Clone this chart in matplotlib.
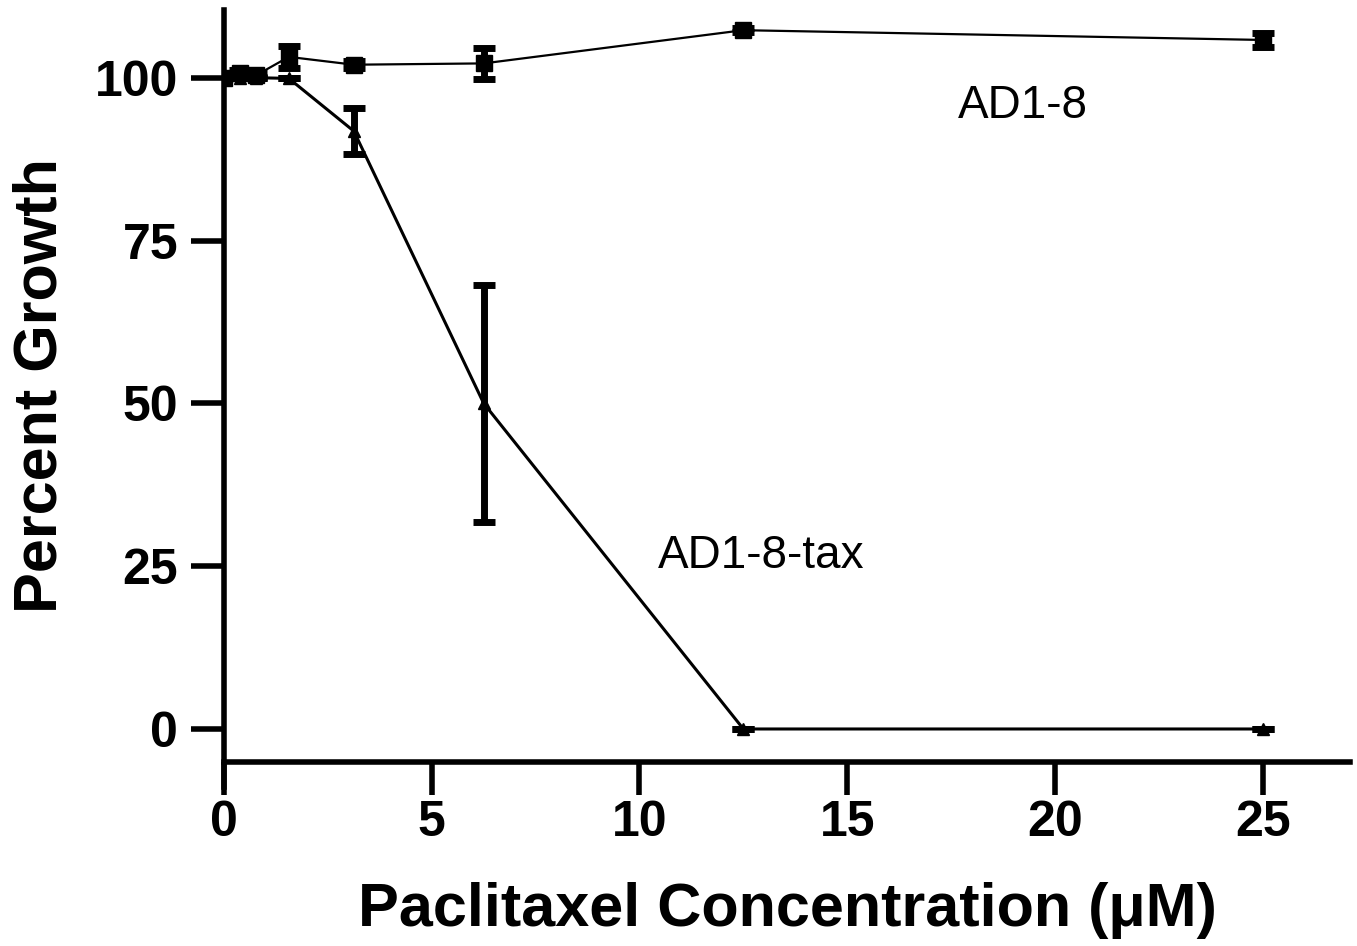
import matplotlib
matplotlib.use("Agg")
import matplotlib.pyplot as plt
from matplotlib import font_manager

plt.rcParams['font.family'] = ['Liberation Sans', 'DejaVu Sans']

names = {f.name for f in font_manager.fontManager.ttflist}
tick_family = ['Liberation Sans Narrow', 'Liberation Sans'] if 'Liberation Sans Narrow' in names else ['Liberation Sans']
tick_size = 43 if 'Liberation Sans Narrow' in names else 36

conc = [0, 0.39, 0.78, 1.56, 3.125, 6.25, 12.5, 25]
ad18 = [100, 100.8, 100.4, 103.2, 102.0, 102.2, 107.3, 105.8]
ad18_err = [0, 0.4, 0.3, 1.7, 0.5, 2.4, 0.3, 1.1]
tax = [100, 100, 100, 99.9, 91.8, 50.0, 0, 0]
tax_err = [0, 0, 0, 0, 3.5, 18.2, 0, 0]

xticks = [0, 5, 10, 15, 20, 25]
yticks = [0, 25, 50, 75, 100]

fig = plt.figure(figsize=(13.57, 9.46), dpi=100)
ax = fig.add_axes([224/1357, 1-762/946, (1350-224)/1357, (762-10)/946])

ax.errorbar(conc, ad18, yerr=ad18_err, color='black', lw=1.6, marker='s', ms=11,
            elinewidth=5, capsize=8, capthick=5)
ax.errorbar(conc, tax, yerr=tax_err, color='black', lw=2.2, marker='^', ms=8,
            elinewidth=5, capsize=8, capthick=5)

ax.set_xlim(0, 27.1)
ax.set_ylim(-5.07, 110.4)
ax.set_xticks(xticks)
ax.set_yticks(yticks)
for s in ['top', 'right']:
    ax.spines[s].set_visible(False)
ax.spines['left'].set_linewidth(4)
ax.spines['bottom'].set_linewidth(4)
ax.spines['left'].set_bounds(-8.9, 110.4)
ax.tick_params(axis='both', width=4, length=24, direction='out')
ax.tick_params(axis='x', pad=3)
ax.tick_params(axis='y', pad=9)
for lab in ax.get_xticklabels() + ax.get_yticklabels():
    lab.set_fontweight('bold')
    lab.set_family(tick_family)
    lab.set_fontsize(tick_size)

ax.set_xlabel('Paclitaxel Concentration (\u03bcM)', fontsize=44, fontweight='bold', labelpad=26)
ax.set_ylabel('Percent Growth', fontsize=44, fontweight='bold', labelpad=18)

ax.text(19.22, 95.6, 'AD1-8', fontsize=33, ha='center', va='center')
ax.text(12.92, 26.6, 'AD1-8-tax', fontsize=33, ha='center', va='center')

fig.savefig('out.png', dpi=100, facecolor='white')
